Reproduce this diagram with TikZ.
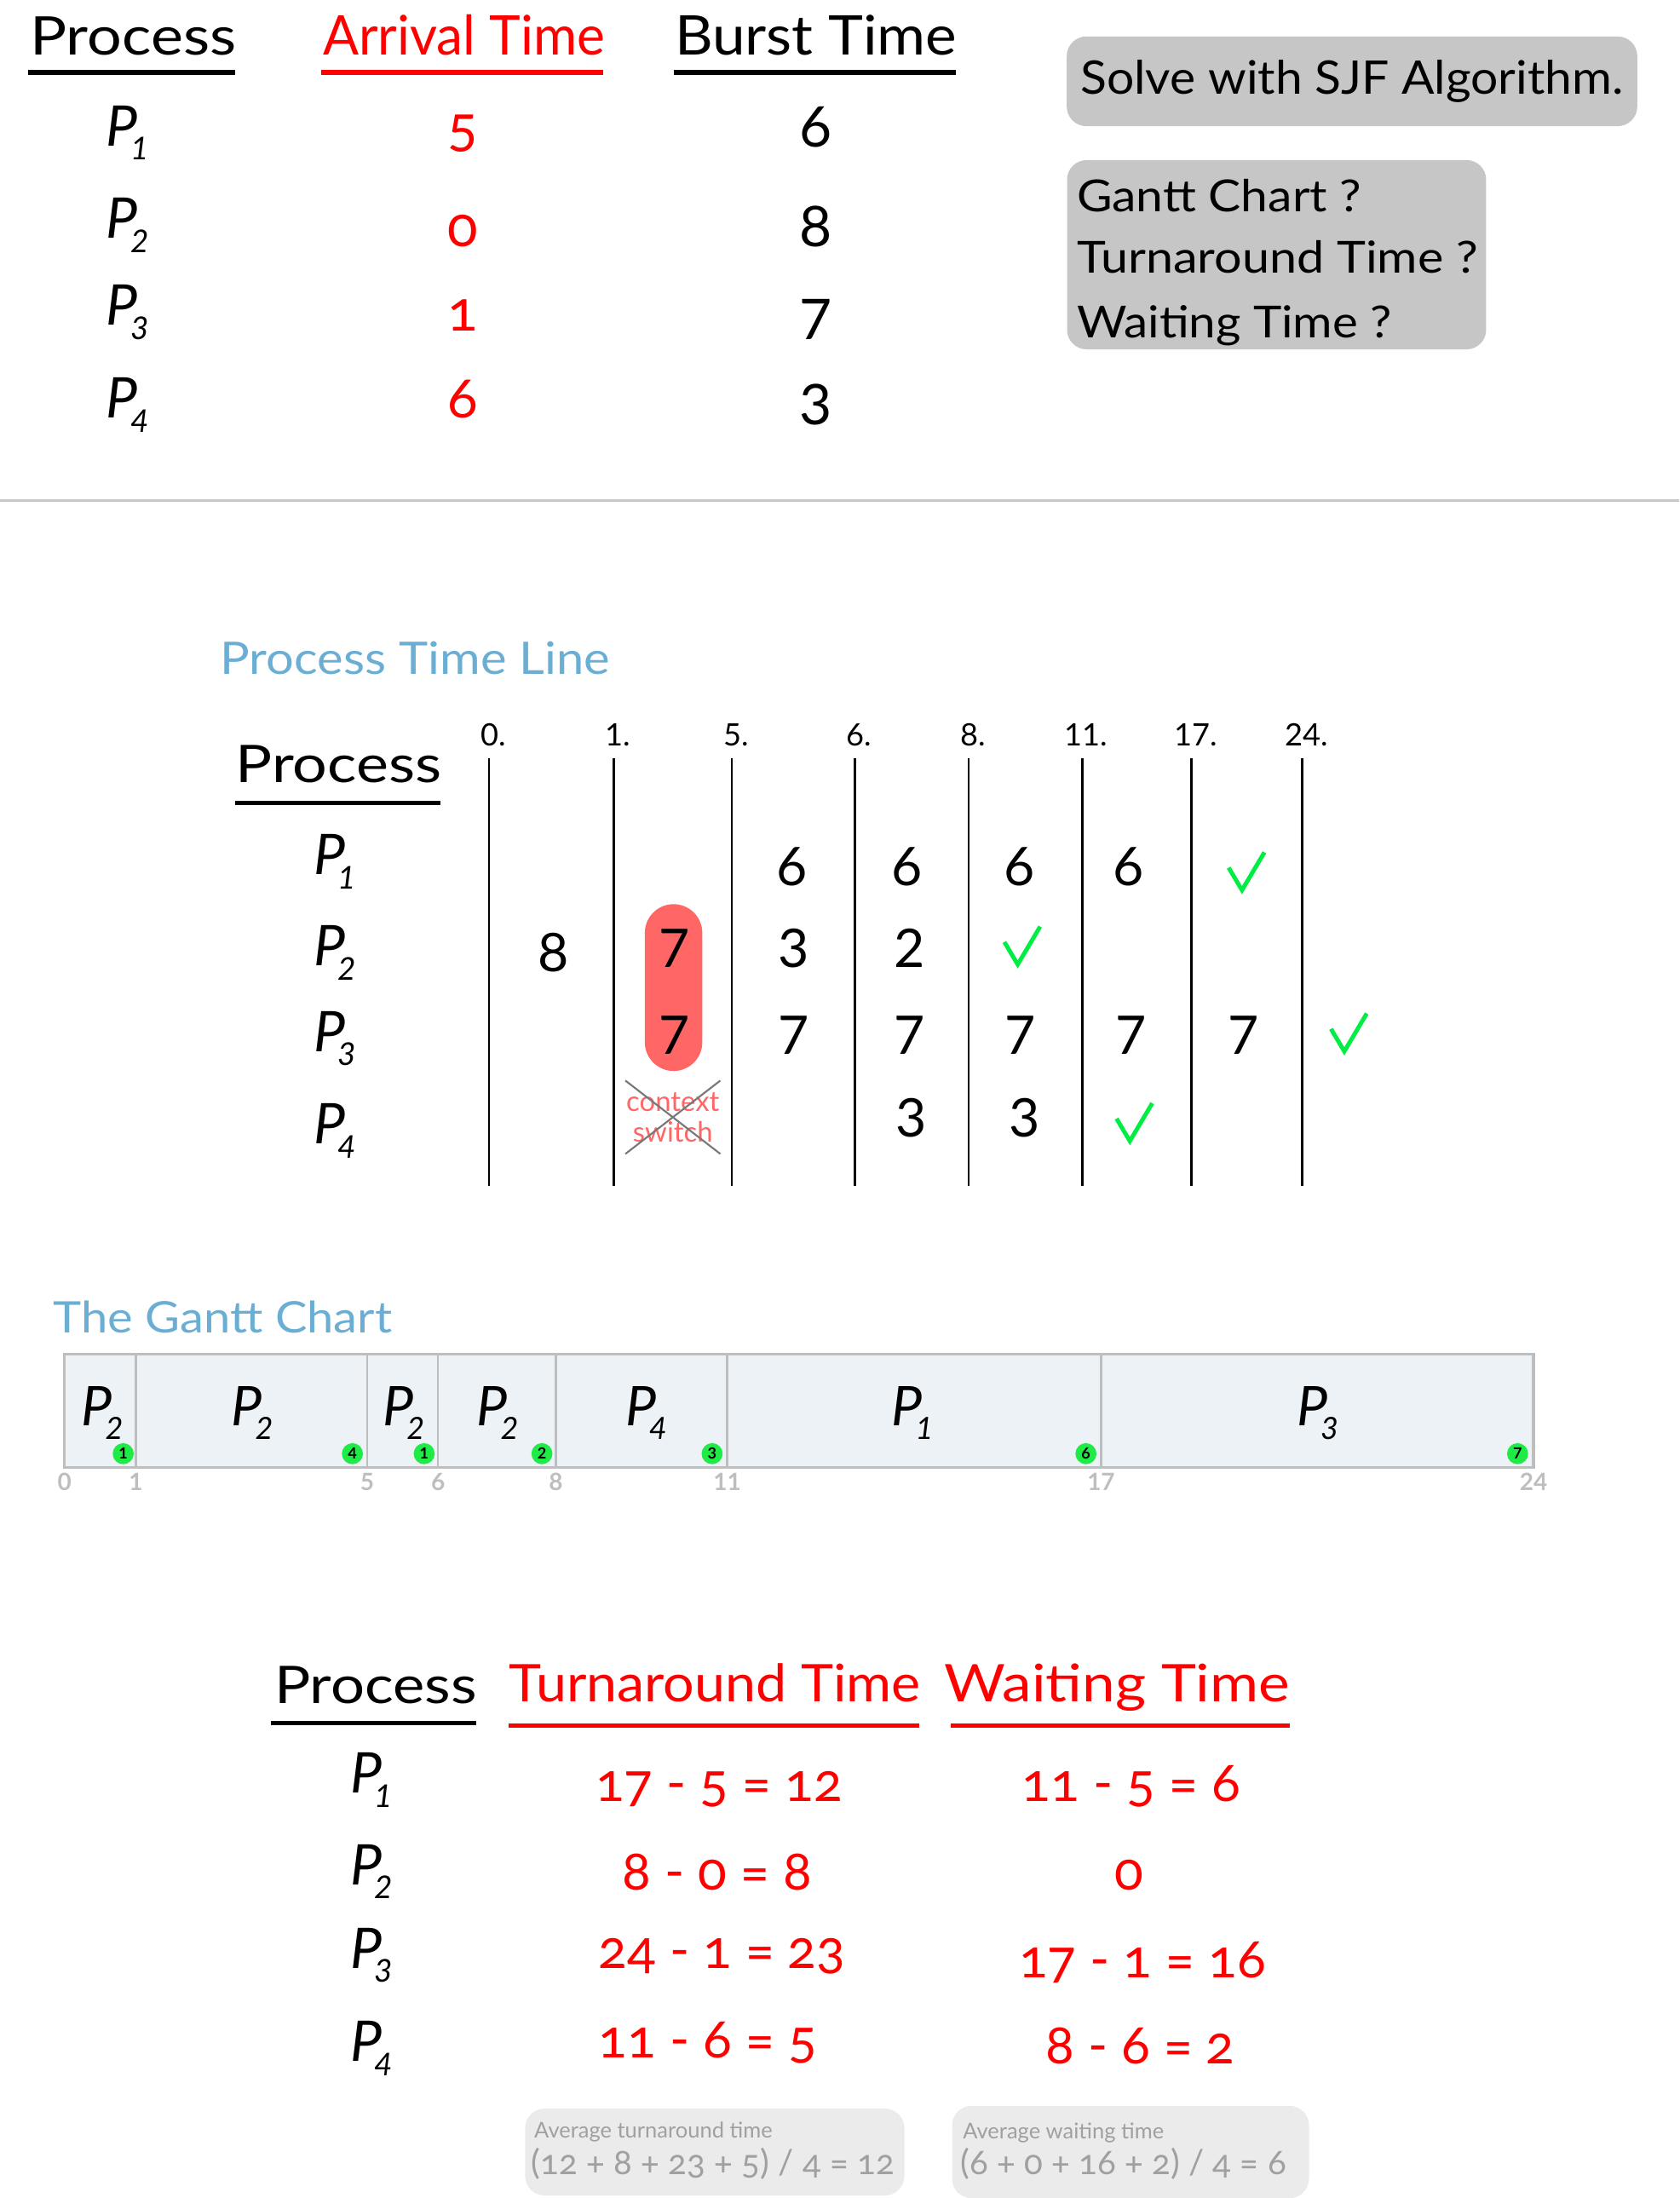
\documentclass[tikz,border=0pt]{standalone}
\usepackage{fontspec}
\setmainfont{Lato}
\newfontfamily\oldnum[Numbers=OldStyle]{Lato}
\usetikzlibrary{shapes.misc}

\definecolor{sjfred}{RGB}{255,0,0}
\definecolor{boxgray}{RGB}{198,198,198}
\definecolor{rulegray}{RGB}{200,200,200}
\definecolor{titleblue}{RGB}{107,174,212}
\definecolor{pillred}{RGB}{255,102,102}
\definecolor{okgreen}{RGB}{0,238,68}
\definecolor{ganttfill}{RGB}{236,242,245}
\definecolor{ganttline}{RGB}{190,190,190}
\definecolor{dotgreen}{RGB}{30,235,70}
\definecolor{avgfill}{RGB}{235,235,235}
\definecolor{avgtext}{RGB}{160,160,160}
\definecolor{crossgray}{RGB}{120,120,120}

\newcommand{\fsz}[1]{\fontsize{#1}{#1}\selectfont}
\newcommand{\sx}[2]{\scalebox{#1}[1]{#2}}
\newcommand{\proc}[1]{\textit{P}\kern-0.13em\raisebox{-0.5ex}{\scalebox{0.56}{\textit{#1}}}}
% green tick, given by its lowest point
\newcommand{\okat}[2]{\draw[okline] (#1,#2) ++(-9.5,-16) -- ++(9.5,16) -- ++(16,-27);}

\begin{document}
\begin{tikzpicture}[x=1pt, y=-1pt,
    every node/.style={inner sep=0pt},
    heading/.style={font=\fsz{39}, anchor=base},
    entry/.style={font=\fsz{40}, anchor=base},
    rednum/.style={font=\oldnum\fsz{40}, text=sjfred, anchor=base},
    uline/.style={line width=3.2pt},
    graybox/.style={fill=boxgray, rounded corners=14pt},
    asktext/.style={font=\fsz{31.5}, anchor=base west},
    title/.style={font=\fsz{32}, text=titleblue, anchor=base west},
    timelbl/.style={font=\fsz{22}, anchor=base},
    cellnum/.style={font=\fsz{38}, anchor=base},
    vline/.style={line width=1.5pt},
    okline/.style={draw=okgreen, line width=3pt},
    gantlbl/.style={font=\fsz{39}, anchor=base},
    gdot/.style={circle, fill=dotgreen, minimum size=15pt, font=\bfseries\fsz{11}},
    gtick/.style={font=\bfseries\fsz{17}, text=ganttline, anchor=base},
    resnum/.style={font=\oldnum\fsz{38}, text=sjfred, anchor=base},
    avgbox/.style={fill=avgfill, rounded corners=14pt},
    avgsmall/.style={font=\fsz{15.5}, text=avgtext, anchor=base west},
    avgbig/.style={font=\oldnum\fsz{24.5}, text=avgtext, anchor=base west}]

\useasboundingbox (0,0) rectangle (1198,1568);

%the given table
\node[heading, font=\fsz{38}] (hproc) at (95,39) {\sx{1.15}{Process}};
\node[heading, text=sjfred] (harr) at (331,39) {\sx{0.97}{Arrival Time}};
\node[heading] (hburst) at (582,39) {\sx{1.08}{Burst Time}};
\draw[uline] (20,51.7) -- (168,51.7);
\draw[uline, sjfred] (229,51.7) -- (430,51.7);
\draw[uline] (481,51.7) -- (682,51.7);

\node[entry] (p1) at (91,104) {\proc{1}};
\node[entry] (p2) at (91,170) {\proc{2}};
\node[entry] (p3) at (91,232) {\proc{3}};
\node[entry] (p4) at (91,298) {\proc{4}};

\node[rednum] (arr1) at (330,104) {5};
\node[rednum] (arr2) at (330,176) {0};
\node[rednum] (arr3) at (330,236) {1};
\node[rednum] (arr4) at (330,298) {6};

\node[entry] (burst1) at (582,105) {6};
\node[entry] (burst2) at (582,176) {8};
\node[entry] (burst3) at (582,242) {7};
\node[entry] (burst4) at (582,303) {3};

%the questions
\node[graybox, font=\fsz{33}, minimum width=407, minimum height=64] (solve) at (964.5,58) {\sx{1.05}{Solve with SJF Algorithm.}};
\node[graybox, minimum width=299, minimum height=135, anchor=north west] (ask) at (761,114) {};
\node[asktext] (askgantt) at (768,151) {\sx{1.1}{Gantt Chart ?}};
\node[asktext] (asktat) at (768,195) {\sx{1.11}{Turnaround Time ?}};
\node[asktext] (askwt) at (768,241) {\sx{1.09}{Waiting Time ?}};

\draw[rulegray, line width=2pt] (0,357) -- (1198,357);

%process time line
\node[title] (tltitle) at (157,481) {\sx{1.1}{Process Time Line}};
\node[font=\fsz{37}, anchor=base] (tlproc) at (241.5,558.5) {\sx{1.18}{Process}};
\draw[uline] (168,573) -- (314,573);

\node[entry] (tp1) at (239,624) {\proc{1}};
\node[entry] (tp2) at (239,689) {\proc{2}};
\node[entry] (tp3) at (239,750) {\proc{3}};
\node[entry] (tp4) at (239,816) {\proc{4}};

\foreach \x/\t [count=\i] in {349/0, 438/1, 522/5, 610/6, 691/8, 772/11, 850/17, 929/24} {
    \draw[vline] (\x,541) -- (\x,846);
    \node[timelbl] (time\i) at (\x+3,532) {\t.};
}

%context switch between 1 and 5
\node[fill=pillred, rounded corners=20.5pt, minimum width=41, minimum height=119] (pill) at (480.5,704.5) {};
\node[font=\fontsize{20}{22}\selectfont, text=pillred, align=center, cross out, draw=crossgray,
      line width=1.3pt, minimum width=62, minimum height=51] (ctx) at (480,797) {context\\switch};

\node[cellnum] (c1r2) at (395,693) {8};
\node[cellnum] (c2r2) at (481,690) {7};
\node[cellnum] (c2r3) at (481,752) {7};
\node[cellnum] (c3r1) at (565,632) {6};
\node[cellnum] (c3r2) at (566,690) {3};
\node[cellnum] (c3r3) at (566,752) {7};
\node[cellnum] (c4r1) at (647,632) {6};
\node[cellnum] (c4r2) at (649,690) {2};
\node[cellnum] (c4r3) at (649,752) {7};
\node[cellnum] (c4r4) at (650,811) {3};
\node[cellnum] (c5r1) at (727,632) {6};
\node[cellnum] (c5r3) at (728,752) {7};
\node[cellnum] (c5r4) at (731,811) {3};
\node[cellnum] (c6r1) at (805,632) {6};
\node[cellnum] (c6r3) at (807,752) {7};
\node[cellnum] (c7r3) at (887,752) {7};

\okat{726}{688}
\okat{806}{814}
\okat{886}{635}
\okat{959}{750}

%the gantt chart
\node[title, font=\fsz{31}] (gtitle) at (38,951) {\sx{1.1}{The Gantt Chart}};
\draw[ganttline, line width=2pt, fill=ganttfill] (46,966) rectangle (1094,1047);
\foreach \x/\t in {46/0, 97/1, 262/5, 312.5/6, 396.5/8, 518.8/11, 785.5/17, 1094/24} {
    \draw[ganttline, line width=1.5pt] (\x,966) -- (\x,1047);
    \node[gtick] (tick\t) at (\x,1063) {\t};
}

\node[gantlbl] (run1) at (73,1017) {\proc{2}};
\node[gantlbl] (run2) at (180,1017) {\proc{2}};
\node[gantlbl] (run3) at (288,1017) {\proc{2}};
\node[gantlbl] (run4) at (355,1017) {\proc{2}};
\node[gantlbl] (run5) at (461,1017) {\proc{4}};
\node[gantlbl] (run6) at (651,1017) {\proc{1}};
\node[gantlbl] (run7) at (940,1017) {\proc{3}};

\node[gdot] (dot1) at (87.9,1037) {1};
\node[gdot] (dot2) at (251.4,1037) {4};
\node[gdot] (dot3) at (302.6,1037) {1};
\node[gdot] (dot4) at (386.6,1037) {2};
\node[gdot] (dot5) at (508,1037) {3};
\node[gdot] (dot6) at (774.7,1037) {6};
\node[gdot] (dot7) at (1082.6,1037) {7};

%results
\node[font=\fsz{37}, anchor=base] (rproc) at (268,1215) {\sx{1.16}{Process}};
\node[font=\fsz{37}, anchor=base, text=sjfred] (rtat) at (510,1214) {\sx{1.06}{Turnaround Time}};
\node[font=\fsz{37}, anchor=base, text=sjfred] (rwt) at (797,1214) {\sx{1.14}{Waiting Time}};
\draw[uline] (193,1229) -- (340,1229);
\draw[uline, sjfred] (363,1231) -- (656,1231);
\draw[uline, sjfred] (678,1231) -- (920,1231);

\node[entry] (rp1) at (265,1279) {\proc{1}};
\node[entry] (rp2) at (265,1344.5) {\proc{2}};
\node[entry] (rp3) at (265,1404) {\proc{3}};
\node[entry] (rp4) at (265,1470.6) {\proc{4}};

\node[resnum] (tat1) at (513,1285) {17 - 5 = 12};
\node[resnum] (tat2) at (511.6,1348.5) {8 - 0 = 8};
\node[resnum] (tat3) at (515,1404) {24 - 1 = 23};
\node[resnum] (tat4) at (505,1468) {11 - 6 = 5};

\node[resnum] (wt1) at (807,1285) {11 - 5 = 6};
\node[resnum] (wt2) at (805.7,1348.5) {0};
\node[resnum] (wt3) at (815,1410.6) {17 - 1 = 16};
\node[resnum] (wt4) at (813.5,1472.4) {8 - 6 = 2};

%averages
\node[avgbox, minimum width=270.6, minimum height=62, anchor=north west] (avgtat) at (374.4,1504) {};
\node[avgbox, minimum width=254.6, minimum height=66, anchor=north west] (avgwt) at (679,1502) {};
\node[avgsmall] (avgtatlbl) at (381,1525) {Average turnaround time};
\node[avgbig] (avgtatval) at (379,1551.5) {(12 + 8 + 23 + 5) / 4 = 12};
\node[avgsmall] (avgwtlbl) at (686.8,1526) {Average waiting time};
\node[avgbig] (avgwtval) at (685,1551.5) {(6 + 0 + 16 + 2) / 4 = 6};

\end{tikzpicture}
\end{document}
